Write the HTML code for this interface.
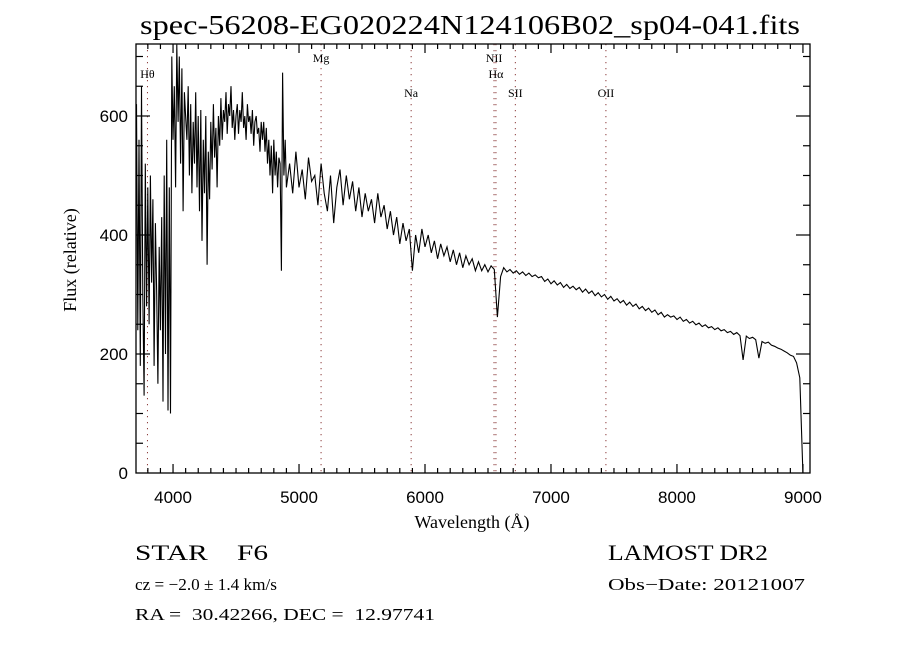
<!DOCTYPE html>
<html><head><meta charset="utf-8"><style>
html,body{margin:0;padding:0;background:#fff;}
svg text{fill:#000;}
</style></head><body>
<svg width="900" height="650" viewBox="0 0 900 650" xmlns="http://www.w3.org/2000/svg">
<rect width="900" height="650" fill="#fff"/>
<text x="140" y="34" textLength="660" lengthAdjust="spacingAndGlyphs" font-family="Liberation Serif, serif" font-size="27">spec-56208-EG020224N124106B02_sp04-041.fits</text>
<g id="lines"></g>
<g id="axes"></g>
<path id="spec" fill="none" stroke="#000" stroke-width="1.1" stroke-linejoin="miter"/>
<rect x="136" y="44" width="674" height="429" fill="none" stroke="#000" stroke-width="1.3"/>
<text x="472" y="528" text-anchor="middle" font-family="Liberation Serif, serif" font-size="18">Wavelength (Å)</text>
<text transform="translate(76,260) rotate(-90)" text-anchor="middle" font-family="Liberation Serif, serif" font-size="18">Flux (relative)</text>
<text x="135" y="560" textLength="133" lengthAdjust="spacingAndGlyphs" font-family="Liberation Serif, serif" font-size="22">STAR&#160;&#160;&#160;&#160;F6</text>
<text x="135" y="590" textLength="142" lengthAdjust="spacingAndGlyphs" font-family="Liberation Serif, serif" font-size="17">cz = −2.0 ± 1.4 km/s</text>
<text x="135" y="620" textLength="300" lengthAdjust="spacingAndGlyphs" font-family="Liberation Serif, serif" font-size="17">RA =&#160;&#160;30.42266, DEC =&#160;&#160;12.97741</text>
<text x="608" y="560" textLength="160" lengthAdjust="spacingAndGlyphs" font-family="Liberation Serif, serif" font-size="22">LAMOST DR2</text>
<text x="608" y="590" textLength="197" lengthAdjust="spacingAndGlyphs" font-family="Liberation Serif, serif" font-size="17">Obs−Date: 20121007</text>
</svg>
<script>
const blueStart = 3710;
const blueStep = 10;
const blueFlux = [
620,240,560,180,650,300,130,520,280,480,
250,500,320,460,180,420,300,150,380,240,
430,120,500,200,560,105,480,100,700,560,
650,480,720,590,700,520,680,440,640,600,
560,650,500,620,470,590,520,640,480,600,
440,610,390,560,470,600,350,540,460,590,
510,620,530,580,480,600,550,630,560,610,
590,640,570,620,600,650,580,610,560,600,
620,570,610,590,640,580,600,560,620,590,
600,570,610,550,590,600,570,580,540,590,
560,590,540,580,520,560,500,550,470,560,
500,540,480,530,520,340,673,500,560,480
];
const redStart = 4925;
const redStep = 25;
const redFlux = [
520,470,540,480,510,460,530,490,500,450,520,470,440,500,420,480,510,450,500,460,
490,440,480,430,470,440,460,420,470,430,450,410,440,400,430,385,420,390,410,340,
400,370,410,380,400,370,390,360,385,365,380,355,375,350,370,345,365,350,360,340,
355,340,350,338,348,342,262,330,345,338,342,336,340,334,338,332,336,330,333,328,
330,322,326,318,323,316,320,312,317,310,314,308,312,304,309,302,306,298,303,296,
300,292,297,289,293,286,290,282,287,280,284,276,280,273,277,270,274,266,270,262,
266,262,264,258,262,255,258,252,255,249,252,246,249,244,246,241,244,239,241,236,
238,233,236,231,190,230,226,228,224,193,221,218,220,215,213,210,208,205,202,198,
196,185,160,0
];
const yTicks = [0,200,400,600];
const xTicks = [4000,5000,6000,7000,8000,9000];
const lineWl = [3797,5175,5890,6548,6563,6717,7436];
const lineLbl = ["Hθ","Mg","Na","NII","Hα","SII","OII"];
const lineLy = [78,62,97,62,78,97,97];

const X0=136,X1=810,Y0=473,Y1=44,WMIN=3706,WMAX=9056,FMAX=721;
const sx = w => X0 + (w-WMIN)/(WMAX-WMIN)*(X1-X0);
const sy = f => Y0 - f/FMAX*(Y0-Y1);
const NS="http://www.w3.org/2000/svg";
function mk(tag, attrs, parent){const e=document.createElementNS(NS,tag);for(const k in attrs)e.setAttribute(k,attrs[k]);parent.appendChild(e);return e;}

let d="";
blueFlux.forEach((f,i)=>{const w=blueStart+i*blueStep;d+=(d?"L":"M")+sx(w).toFixed(1)+","+sy(f).toFixed(1);});
redFlux.forEach((f,i)=>{const w=redStart+i*redStep;d+="L"+sx(w).toFixed(1)+","+sy(f).toFixed(1);});
document.getElementById('spec').setAttribute('d',d);

const ax=document.getElementById('axes');
for(let w=3800; w<=9000; w+=100){
  const major = w%1000===0, L = major?9:5, x=sx(w);
  const t1=mk('line',{x1:x,y1:Y0,x2:x,y2:Y0-L,stroke:'#000','stroke-width':1.2},ax);
  
  
  const t2=mk('line',{x1:x,y1:Y1,x2:x,y2:Y1+L,stroke:'#000','stroke-width':1.2},ax);
  
  
}
xTicks.forEach(v=>{
  const t=mk('text',{x:sx(v),y:503,'text-anchor':'middle','font-family':'Liberation Sans, sans-serif','font-size':17},ax);
  t.textContent=v;
  
  
});
for(let f=50; f<=700; f+=50){
  const major=f%200===0, L=major?14:7, y=sy(f);
  const t1=mk('line',{x1:X0,y1:y,x2:X0+L,y2:y,stroke:'#000','stroke-width':1.2},ax);
  
  
  const t2=mk('line',{x1:X1,y1:y,x2:X1-L,y2:y,stroke:'#000','stroke-width':1.2},ax);
  
  
}
yTicks.forEach(v=>{
  const t=mk('text',{x:128,y:sy(v)+6,'text-anchor':'end','font-family':'Liberation Sans, sans-serif','font-size':17},ax);
  t.textContent=v;
  
  
});

const lg=document.getElementById('lines');
lineWl.forEach((w,i)=>{
  const x=sx(w);
  const l=mk('line',{x1:x,y1:Y1,x2:x,y2:Y0,stroke:'#8b3a3a','stroke-width':1,'stroke-dasharray':'1.2,4.8'},lg);
  
  
  const t=mk('text',{x:x,y:lineLy[i],'text-anchor':'middle','font-family':'Liberation Serif, serif','font-size':12},lg);
  t.textContent=lineLbl[i];
  
  
});
</script>
</body></html>
